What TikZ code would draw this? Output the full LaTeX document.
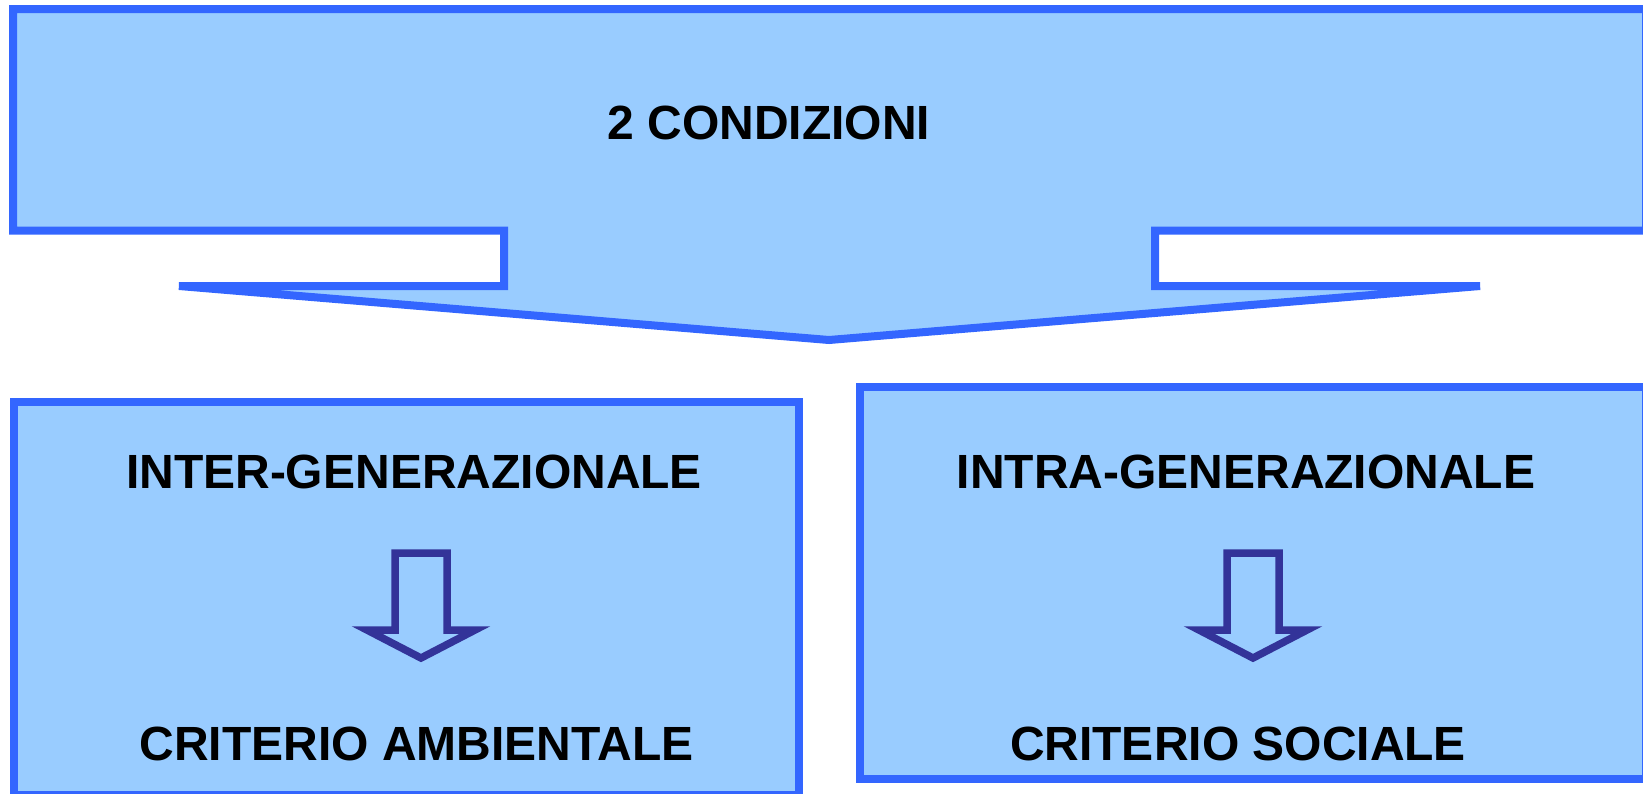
\documentclass[tikz,border=0pt]{standalone}
\usepackage{fontspec}
\setmainfont{Liberation Sans}
\usepackage{tikz}

\definecolor{paleblue}{HTML}{99CCFF}
\definecolor{edgeblue}{HTML}{3366FF}
\definecolor{darkblue}{HTML}{333399}

\tikzset{
	panel/.style={draw=edgeblue, fill=paleblue, line width=8pt},
	smallarrow/.style={draw=darkblue, fill=paleblue, line width=7.5pt},
	label/.style={inner sep=0pt, font=\fontsize{48pt}{58pt}\selectfont\bfseries}
}

\begin{document}
\begin{tikzpicture}[x=1pt, y=-1pt]
		\useasboundingbox (0, 0) rectangle (1643, 793);

		\draw[panel] (13, 9) -- (1646, 9) -- (1646, 230.5) -- (1155, 230.5) -- (1155, 286)
			-- (1480, 286) -- (829, 340) -- (179, 286) -- (504, 286) -- (504, 230.5)
			-- (13, 230.5) -- cycle;

		\draw[panel] (13.5, 402) rectangle (799, 795);
		\draw[panel] (860, 387) rectangle (1646, 779);

		\node[label] (cond) at (769, 122.5) {2 CONDIZIONI};
		\node[label] (inter) at (414, 471.5) {INTER-GENERAZIONALE};
		\node[label] (amb) at (416.5, 744) {CRITERIO AMBIENTALE};
		\node[label] (intra) at (1246, 471.5) {INTRA-GENERAZIONALE};
		\node[label] (soc) at (1238, 744) {CRITERIO SOCIALE};

		\foreach \c in {421, 1253} {
			\draw[smallarrow] (\c-26, 553) -- (\c+26, 553) -- (\c+26, 630) -- (\c+54, 630)
				-- (\c, 658) -- (\c-54, 630) -- (\c-26, 630) -- cycle;
		}
	\end{tikzpicture}
\end{document}
